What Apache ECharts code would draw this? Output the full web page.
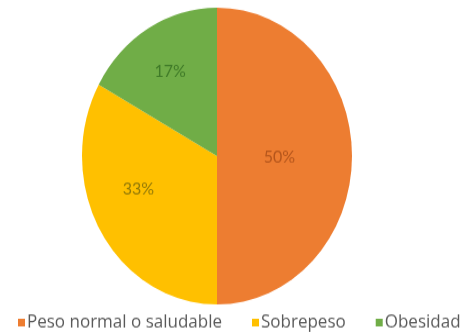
<!DOCTYPE html>
<html>
<head>
<meta charset="utf-8">
<script src="https://cdn.jsdelivr.net/npm/echarts@6/dist/echarts.min.js"></script>
<style>
html,body{margin:0;padding:0;background:#fff;overflow:hidden;width:470px;height:333px;}
#wrap{width:470px;height:333px;overflow:hidden;position:relative;}
#c{width:470px;height:303px;transform:scaleY(1.099);transform-origin:0 0;}
</style>
</head>
<body>
<div id="wrap"><div id="c"></div></div>
<script>
const categories = ['Peso normal o saludable', 'Sobrepeso', 'Obesidad'];
const values = [50, 33, 17];
const colors = ['#ED7D31', '#FFC000', '#70AD47'];
const labelColors = ['#b5561c', '#937a08', '#3f7a28'];
const labelShift = [[-8, 1], [-18, -6], [-11, -16]];

const chart = echarts.init(document.getElementById('c'), null, {renderer: 'canvas'});
chart.setOption({
  animation: false,
  legend: {
    top: 280,
    left: 13,
    itemWidth: 7,
    itemHeight: 7,
    itemGap: 30,
    icon: 'rect',
    textStyle: {fontFamily: 'Open Sans', fontSize: 17, color: '#595959', padding: [0, 0, 0, -3]}
  },
  series: [{
    type: 'pie',
    center: [217, 142],
    radius: 135,
    startAngle: 90,
    clockwise: true,
    avoidLabelOverlap: false,
    data: categories.map((n, i) => ({
      name: n,
      value: values[i],
      itemStyle: {color: colors[i]},
      label: {color: labelColors[i]}
    })),
    label: {
      position: 'inside',
      formatter: '{d}%',
      fontFamily: 'Lato',
      fontSize: 16
    },
    labelLayout: function (p) {
      const s = labelShift[p.dataIndex];
      return {dx: s[0], dy: s[1]};
    },
    labelLine: {show: false}
  }]
});
</script>
</body>
</html>
